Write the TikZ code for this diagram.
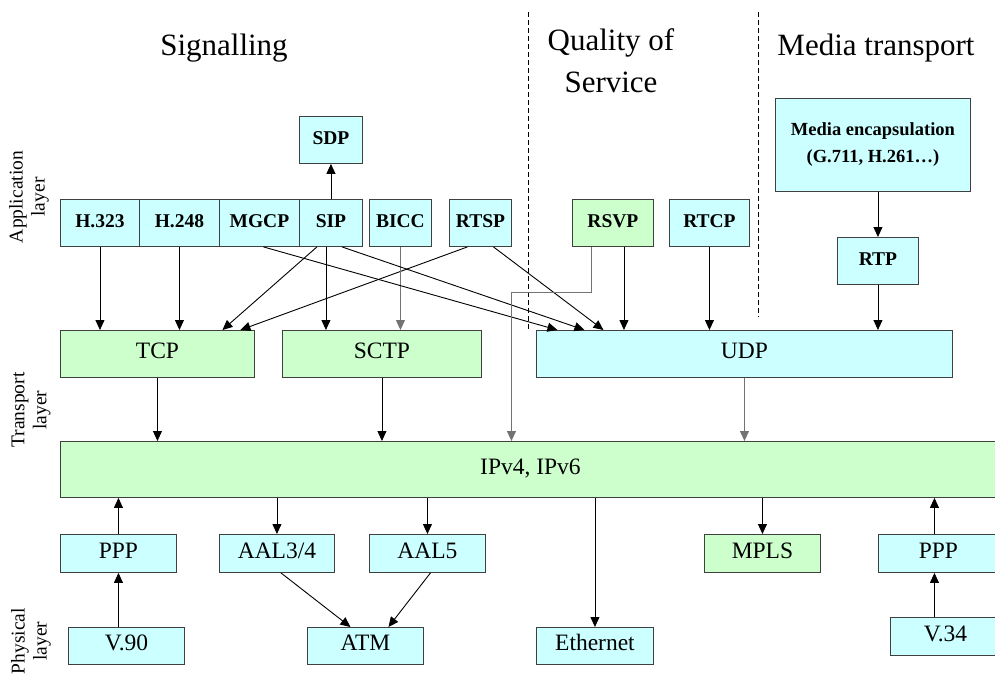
\documentclass[tikz,border=0pt]{standalone}
\usepackage{fontspec}
\setmainfont{Liberation Serif}
\usepackage{xcolor}
\usetikzlibrary{arrows.meta}

\definecolor{cyanbox}{HTML}{CCFFFF}
\definecolor{greenbox}{HTML}{CCFFCC}
\definecolor{edge}{HTML}{404040}

\tikzset{
  blk/.style={draw=edge, line width=0.9pt, inner sep=0pt, anchor=north west},
  wh/.style 2 args={minimum width=#1pt, minimum height=#2pt},
  cy/.style={blk, fill=cyanbox, text height=1em, text depth=0pt, font=\fontsize{23.5}{23.5}\selectfont},
  gr/.style={cy, fill=greenbox},
  app/.style={cy, font=\fontsize{19.5}{20}\selectfont\bfseries},
  arr/.style={-{Triangle[length=10pt,width=9pt]}, line width=0.9pt},
  arrg/.style={arr, draw=black!55},
  sep/.style={dash pattern=on 5pt off 3pt, line width=0.7pt},
  ttl/.style={font=\fontsize{31}{42}\selectfont, align=center},
  side/.style={font=\fontsize{19.5}{22}\selectfont, align=center, rotate=90}
}

\begin{document}
\begin{tikzpicture}[x=1pt,y=-1pt]
            \useasboundingbox (0,0) rectangle (995,679);

            \node[ttl] (tsig) at (224,48) {Signalling};
            \node[ttl] (tqos) at (611,61) {Quality of\\Service};
            \node[ttl] (tmed) at (876,48) {Media transport};
            \node[side] (lapp) at (29,197) {Application\\layer};
            \node[side] (ltra) at (31,410) {Transport\\layer};
            \node[side] (lphy) at (31,641) {Physical\\layer};
            \draw[sep] (528,12) -- (528,329);
            \draw[sep] (758,12) -- (758,317);

            \node[app, wh={63}{47}] (sdp) at (299,116) {SDP};
            \node[app, wh={79}{47}] (h323) at (60,199) {H.323};
            \node[app, wh={80}{47}] (h248) at (139,199) {H.248};
            \node[app, wh={80}{47}] (mgcp) at (219,199) {MGCP};
            \node[app, wh={63}{47}] (sip) at (299,199) {SIP};
            \node[app, wh={62}{47}] (bicc) at (369,199) {BICC};
            \node[app, wh={62}{47}] (rtsp) at (449,199) {RTSP};
            \node[app, fill=greenbox, wh={81}{47}] (rsvp) at (572,199) {RSVP};
            \node[app, wh={80}{47}] (rtcp) at (669,199) {RTCP};
            \node[blk, fill=cyanbox, align=center, wh={195}{93},
                  font=\fontsize{18.5}{27}\selectfont\bfseries] (media) at (775,98)
                  {Media encapsulation\\(G.711, H.261\ldots)};
            \node[app, wh={81}{47}] (rtp) at (837,237) {RTP};

            \node[gr, wh={194}{47}] (tcp) at (60,330) {TCP};
            \node[gr, wh={199}{47}] (sctp) at (282,330) {SCTP};
            \node[cy, wh={416}{47}] (udp) at (536,330) {UDP};
            \node[gr, wh={940}{56}] (ip) at (60,441) {IPv4, IPv6};

            \node[cy, wh={116}{38}] (ppp1) at (60,534) {PPP};
            \node[cy, wh={115}{38}] (aal34) at (219,534) {AAL3/4};
            \node[cy, wh={116}{38}] (aal5) at (369,534) {AAL5};
            \node[gr, wh={116}{38}] (mpls) at (704,534) {MPLS};
            \node[cy, wh={120}{38}] (ppp2) at (878,534) {PPP};
            \node[cy, wh={116}{37}] (v90) at (68,627) {V.90};
            \node[cy, wh={116}{37}] (atm) at (307,627) {ATM};
            \node[cy, wh={117}{37}] (eth) at (536,627) {Ethernet};
            \node[cy, wh={110}{38}] (v34) at (890,617) {V.34};

            \draw[arr] (sip) -- (sdp);
            \draw[arr] (h323.south) -- (h323.south |- tcp.north);
            \draw[arr] (h248.south) -- (h248.south |- tcp.north);
            \draw[arr] ([xshift=-14pt]sip.south) -- ([xshift=65pt]tcp.north);
            \draw[arr] ([xshift=-13pt]rtsp.south) -- ([xshift=83pt]tcp.north);
            \draw[arr] ([xshift=-5pt]sip.south) -- ([xshift=-5pt]sip.south |- sctp.north);
            \draw[arrg] (bicc.south) -- (bicc.south |- sctp.north);
            \draw[arr] ([xshift=4pt]mgcp.south) -- ([xshift=-187pt]udp.north);
            \draw[arr] ([xshift=11pt]sip.south) -- ([xshift=-160pt]udp.north);
            \draw[arr] ([xshift=13pt]rtsp.south) -- ([xshift=-141pt]udp.north);
            \draw[arr] ([xshift=11pt]rsvp.south) -- ([xshift=11pt]rsvp.south |- udp.north);
            \draw[arrg] ([xshift=-22pt]rsvp.south) -- ++(0,46) -| ([xshift=-19pt]ip.north);
            \draw[arr] (rtcp.south) -- (rtcp.south |- udp.north);
            \draw[arr] (rtp.north |- media.south) -- (rtp.north);
            \draw[arr] (rtp.south) -- (rtp.south |- udp.north);

            \draw[arr] (tcp.south) -- (tcp.south |- ip.north);
            \draw[arr] (sctp.south) -- (sctp.south |- ip.north);
            \draw[arrg] (udp.south) -- (udp.south |- ip.north);
            \draw[arr] (ppp1.north) -- (ppp1.north |- ip.south);
            \draw[arr] (aal34.north |- ip.south) -- (aal34.north);
            \draw[arr] (aal5.north |- ip.south) -- (aal5.north);
            \draw[arr] (eth.north |- ip.south) -- (eth.north);
            \draw[arr] (mpls.north |- ip.south) -- (mpls.north);
            \draw[arr] ([xshift=-4pt]ppp2.north) -- ([xshift=-4pt]ppp2.north |- ip.south);
            \draw[arr] (ppp1.south |- v90.north) -- (ppp1.south);
            \draw[arr] ([xshift=4pt]aal34.south) -- ([xshift=-15pt]atm.north);
            \draw[arr] ([xshift=3pt]aal5.south) -- ([xshift=23pt]atm.north);
            \draw[arr] ([xshift=-4pt]ppp2.south |- v34.north) -- ([xshift=-4pt]ppp2.south);
\end{tikzpicture}
\end{document}
